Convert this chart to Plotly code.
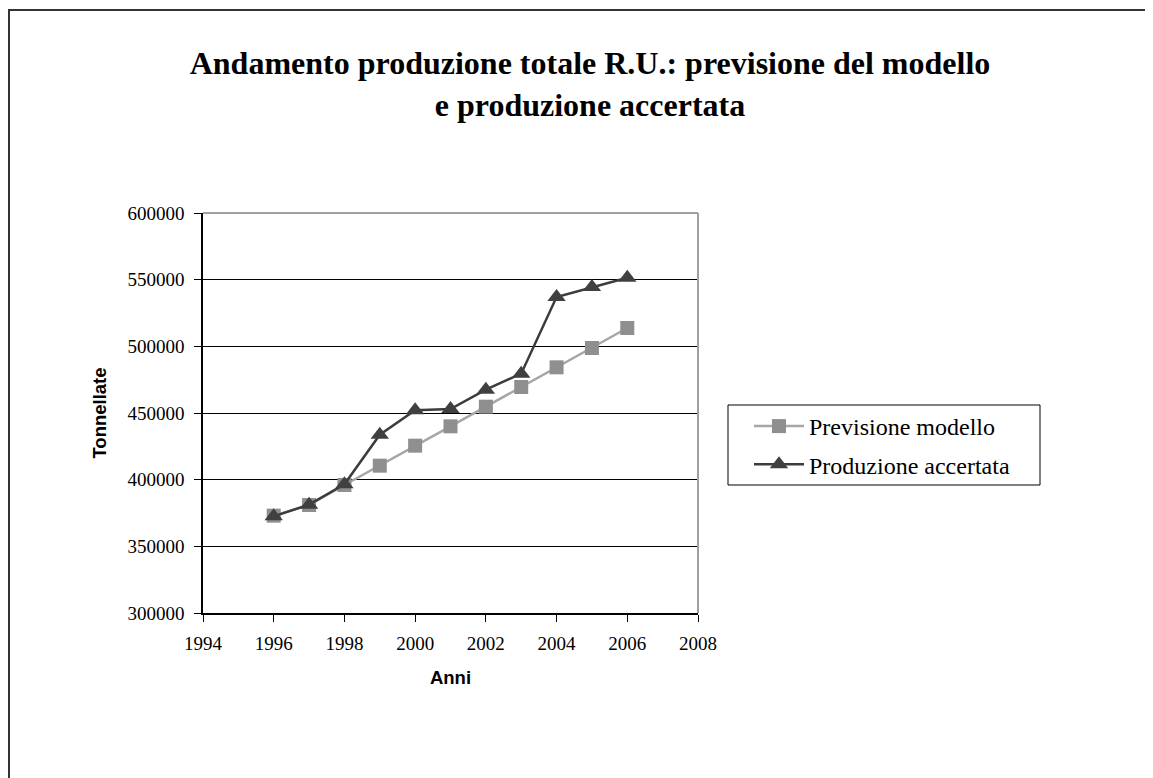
import plotly.graph_objects as go

anni = [1996, 1997, 1998, 1999, 2000, 2001, 2002, 2003, 2004, 2005, 2006]
previsione_modello = [373000, 381000, 396000, 410500, 425500, 440000, 454750, 469500, 484250, 498750, 513750]
produzione_accertata = [372500, 381250, 396500, 433750, 452000, 453000, 467500, 479500, 537000, 544500, 551500]
x_ticks = [1994, 1996, 1998, 2000, 2002, 2004, 2006, 2008]
y_ticks = [300000, 350000, 400000, 450000, 500000, 550000, 600000]
title_lines = ["Andamento produzione totale R.U.: previsione del modello", "e produzione accertata"]

serif = "Liberation Serif, Times New Roman, serif"
sans = "Liberation Sans, Arial, sans-serif"

# page is offset by 8px body margin; figure drawn in a 1145x770 box
W, H = 1145, 770
OX, OY = 8, 8
L, T = 203 - OX, 213 - OY
PW, PH = 495, 400

fig = go.Figure()
fig.add_trace(go.Scatter(
    x=anni, y=previsione_modello, mode="lines+markers", name="Previsione modello",
    legendgroup="a",
    line=dict(color="#a6a6a6", width=2.5),
    marker=dict(symbol="square", size=14, color="#8f8f8f", line=dict(width=0)),
))
fig.add_trace(go.Scatter(
    x=anni, y=produzione_accertata, mode="lines+markers", name="Produzione accertata",
    legendgroup="b",
    line=dict(color="#3c3c3c", width=2.5),
    marker=dict(symbol="triangle-up", size=16, color="#404040", line=dict(width=0)),
))

def px_x(p):
    return (p - 203) / PW

def px_y(p):
    return (613 - p) / PH

fig.update_layout(
    width=W, height=H,
    margin=dict(l=L, r=W - L - PW, t=T, b=H - T - PH),
    paper_bgcolor="white", plot_bgcolor="white",
    title=dict(
        text="<b>" + "<br>".join(title_lines) + "</b>",
        x=(590 - OX) / W, xanchor="center", y=1 - (74 - OY) / H, yanchor="middle",
        font=dict(family=serif, size=32, color="black"),
    ),
    showlegend=True,
    legend=dict(
        x=px_x(749), xanchor="left", y=px_y(404), yanchor="top",
        borderwidth=0, bgcolor="rgba(0,0,0,0)",
        font=dict(family=serif, size=24, color="black"),
        tracegroupgap=4, itemwidth=50,
    ),
    xaxis=dict(
        range=[1994, 2008], tickvals=x_ticks, ticktext=[str(v) for v in x_ticks],
        showgrid=False, zeroline=False,
        showline=True, linecolor="black", linewidth=1.5,
        ticks="outside", ticklen=7, tickcolor="black", tickwidth=1,
        ticklabelstandoff=5,
        tickfont=dict(family=serif, size=19, color="black"),
        title=dict(text="<b>Anni</b>", font=dict(family=sans, size=18.5, color="black"), standoff=19),
    ),
    yaxis=dict(
        range=[300000, 600000], tickvals=y_ticks, ticktext=[str(v) for v in y_ticks],
        showgrid=True, gridcolor="black", gridwidth=1, zeroline=False,
        showline=True, linecolor="black", linewidth=1.5,
        ticks="outside", ticklen=7, tickcolor="black", tickwidth=1,
        ticklabelstandoff=6,
        tickfont=dict(family=serif, size=19, color="black"),
        title=dict(text="<b>Tonnellate</b>", font=dict(family=sans, size=18.5, color="black"), standoff=16),
    ),
    shapes=[
        dict(type="line", xref="paper", yref="paper", x0=0, x1=1, y0=1, y1=1,
             line=dict(color="#a0a0a0", width=2), layer="above"),
        dict(type="line", xref="paper", yref="paper", x0=1, x1=1, y0=0, y1=1,
             line=dict(color="#a0a0a0", width=2), layer="above"),
        # legend frame
        dict(type="rect", xref="paper", yref="paper",
             x0=px_x(728), x1=px_x(1040), y0=px_y(485), y1=px_y(405),
             line=dict(color="black", width=1), fillcolor="white", layer="below"),
        # outer chart border
        dict(type="rect", xref="paper", yref="paper",
             x0=px_x(9), x1=px_x(1165), y0=px_y(790), y1=px_y(10),
             line=dict(color="#333333", width=2), layer="below"),
    ],
)

fig.write_html("out.html")
